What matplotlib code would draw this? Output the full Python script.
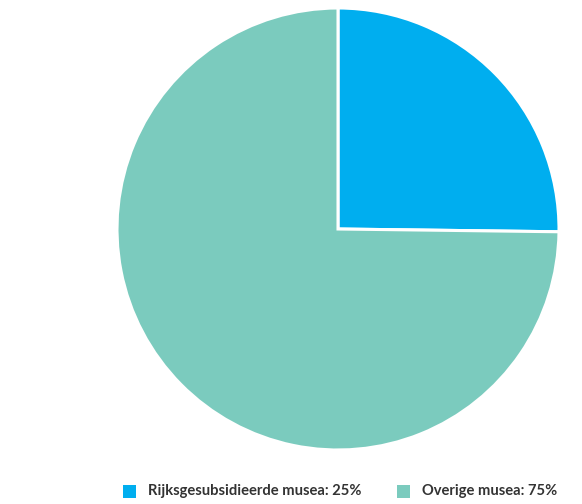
import matplotlib
matplotlib.use("Agg")
import matplotlib.pyplot as plt
from matplotlib.patches import Rectangle

# ---------- data ----------
labels = ["Rijksgesubsidieerde musea: 25%", "Overige musea: 75%"]
shares = [25.2, 74.8]
colors = ["#00AEEF", "#7BCBBE"]

plt.rcParams["font.family"] = ["Lato", "DejaVu Sans"]

W, H = 582, 504
fig = plt.figure(figsize=(W / 100, H / 100), dpi=100)
ax = fig.add_axes([117 / W, 54 / H, 442 / W, 442 / H])
ax.pie(shares, colors=colors, startangle=90, counterclock=False, radius=1,
       wedgeprops=dict(edgecolor="white", linewidth=2.2))
ax.set_xlim(-1.0, 1.0)
ax.set_ylim(-1.0, 1.0)
ax.set_aspect("auto")
ax.axis("off")

# legend drawn by hand (square + label)
for x0, lab, c in zip([123, 397], labels, colors):
    fig.patches.append(Rectangle((x0 / W, 1 - 498 / H), 13 / W, 13 / H,
                                 transform=fig.transFigure, facecolor=c, edgecolor="none"))
    fig.text((x0 + 25) / W, 1 - 491.5 / H, lab, ha="left", va="center",
             fontsize=10.6, fontweight="bold", color="#333333")

fig.savefig("out.png", dpi=100, facecolor="white")
